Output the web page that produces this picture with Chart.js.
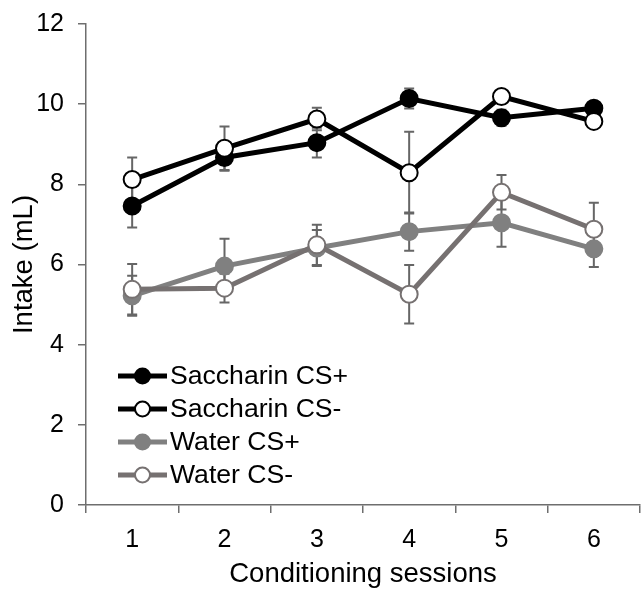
<!DOCTYPE html>
<html><head><meta charset="utf-8">
<script src="https://cdn.jsdelivr.net/npm/chart.js@4/dist/chart.umd.min.js"></script>
<style>html,body{margin:0;padding:0;background:#fff}#wrap{width:641px;height:591px;position:relative}</style>
</head><body><div id="wrap"><canvas id="c" width="641" height="591"></canvas></div>
<script>
const sessions = ['1','2','3','4','5','6'];
const yTicks = [0,2,4,6,8,10,12];
const seriesNames = ['Saccharin CS+','Saccharin CS-','Water CS+','Water CS-'];
const saccCSplus = [7.46, 8.67, 9.04, 10.14, 9.66, 9.90];
const saccCSplusErr = [0.54, 0.33, 0.37, 0.25, 0.20, 0.15];
const saccCSminus = [8.12, 8.90, 9.63, 8.29, 10.19, 9.57];
const saccCSminusErr = [0.55, 0.54, 0.28, 1.02, 0.12, 0.10];
const waterCSplus = [5.22, 5.96, 6.41, 6.82, 7.04, 6.39];
const waterCSplusErr = [0.50, 0.68, 0.45, 0.48, 0.60, 0.45];
const waterCSminus = [5.38, 5.41, 6.49, 5.26, 7.80, 6.88];
const waterCSminusErr = [0.63, 0.36, 0.50, 0.73, 0.43, 0.66];

const FONT = "'Liberation Sans', Arial, sans-serif";
const AX = '#6e6e6e';
const ERR = '#666666';

const errorBars = {
  id: 'errorBars',
  beforeDatasetsDraw(chart) {
    const ctx = chart.ctx, ys = chart.scales.y;
    chart.data.datasets.forEach((ds, di) => {
      const meta = chart.getDatasetMeta(di);
      ctx.save();
      ctx.strokeStyle = ERR; ctx.lineWidth = 2;
      meta.data.forEach((pt, i) => {
        const v = ds.data[i], e = ds.errors[i];
        const x = pt.x, yt = ys.getPixelForValue(v + e), yb = ys.getPixelForValue(v - e);
        ctx.beginPath();
        ctx.moveTo(x, yt); ctx.lineTo(x, yb);
        ctx.moveTo(x - 5, yt); ctx.lineTo(x + 5, yt);
        ctx.moveTo(x - 5, yb); ctx.lineTo(x + 5, yb);
        ctx.stroke();
      });
      ctx.restore();
    });
  }
};

const customLegend = {
  id: 'customLegend',
  afterDraw(chart) {
    const ctx = chart.ctx, ca = chart.chartArea;
    chart.data.datasets.forEach((ds, i) => {
      const cy = ca.top + 352 + i * 33;
      const x0 = ca.left + 32, x1 = ca.left + 81, cx = (x0 + x1) / 2;
      ctx.save();
      ctx.strokeStyle = ds.borderColor; ctx.lineWidth = ds.borderWidth;
      ctx.beginPath(); ctx.moveTo(x0, cy); ctx.lineTo(x1, cy); ctx.stroke();
      ctx.beginPath(); ctx.arc(cx, cy, 7.5, 0, Math.PI * 2);
      ctx.fillStyle = ds.pointBackgroundColor; ctx.fill();
      ctx.lineWidth = ds.pointBorderWidth; ctx.strokeStyle = ds.pointBorderColor; ctx.stroke();
      ctx.fillStyle = '#000';
      ctx.font = '26.6px ' + FONT;
      ctx.textBaseline = 'middle'; ctx.textAlign = 'left';
      ctx.fillText(ds.label, x1 + 3, cy + 1);
      ctx.restore();
    });
  }
};

function mk(label, data, errors, line, fill, border, order) {
  return {
    label, data, errors, order,
    borderColor: line, borderWidth: 5, tension: 0,
    pointRadius: 8.5, pointHoverRadius: 8.5,
    pointBackgroundColor: fill, pointBorderColor: border, pointBorderWidth: 2,
    fill: false
  };
}

new Chart(document.getElementById('c'), {
  type: 'line',
  data: {
    labels: sessions,
    datasets: [
      mk(seriesNames[0], saccCSplus, saccCSplusErr, '#000000', '#000000', '#000000', 3),
      mk(seriesNames[1], saccCSminus, saccCSminusErr, '#000000', '#ffffff', '#000000', 2),
      mk(seriesNames[2], waterCSplus, waterCSplusErr, '#808080', '#808080', '#808080', 1),
      mk(seriesNames[3], waterCSminus, waterCSminusErr, '#767171', '#ffffff', '#767171', 0)
    ]
  },
  options: {
    responsive: false, animation: false,
    layout: { autoPadding: false, padding: { top: 24, right: 1, left: 0, bottom: 0 } },
    plugins: { legend: { display: false }, tooltip: { enabled: false } },
    scales: {
      x: {
        type: 'category', offset: true,
        grid: { offset: true, drawOnChartArea: false, tickLength: 8, color: AX, lineWidth: 1.5 },
        border: { color: AX, width: 1.5 },
        ticks: { font: { family: FONT, size: 25 }, color: '#000', padding: 12, maxRotation: 0 },
        title: { display: true, text: 'Conditioning sessions', font: { family: FONT, size: 27.5 }, color: '#000', padding: { top: -5, bottom: 0 } },
        afterFit(s) { s.height = 86; s.paddingLeft = 0; s.paddingRight = 0; }
      },
      y: {
        min: 0, max: 12,
        afterBuildTicks(s) { s.ticks = yTicks.map(v => ({ value: v })); },
        grid: { drawOnChartArea: false, tickLength: 8, color: AX, lineWidth: 1.5 },
        border: { color: AX, width: 1.5 },
        ticks: { font: { family: FONT, size: 25 }, color: '#000', padding: 14 },
        title: { display: true, text: 'Intake (mL)', font: { family: FONT, size: 27.5 }, color: '#000', padding: { top: 8, bottom: 0 } },
        afterFit(s) { s.width = 86; s.paddingTop = 0; s.paddingBottom = 0; }
      }
    }
  },
  plugins: [errorBars, customLegend]
});
</script></body></html>
